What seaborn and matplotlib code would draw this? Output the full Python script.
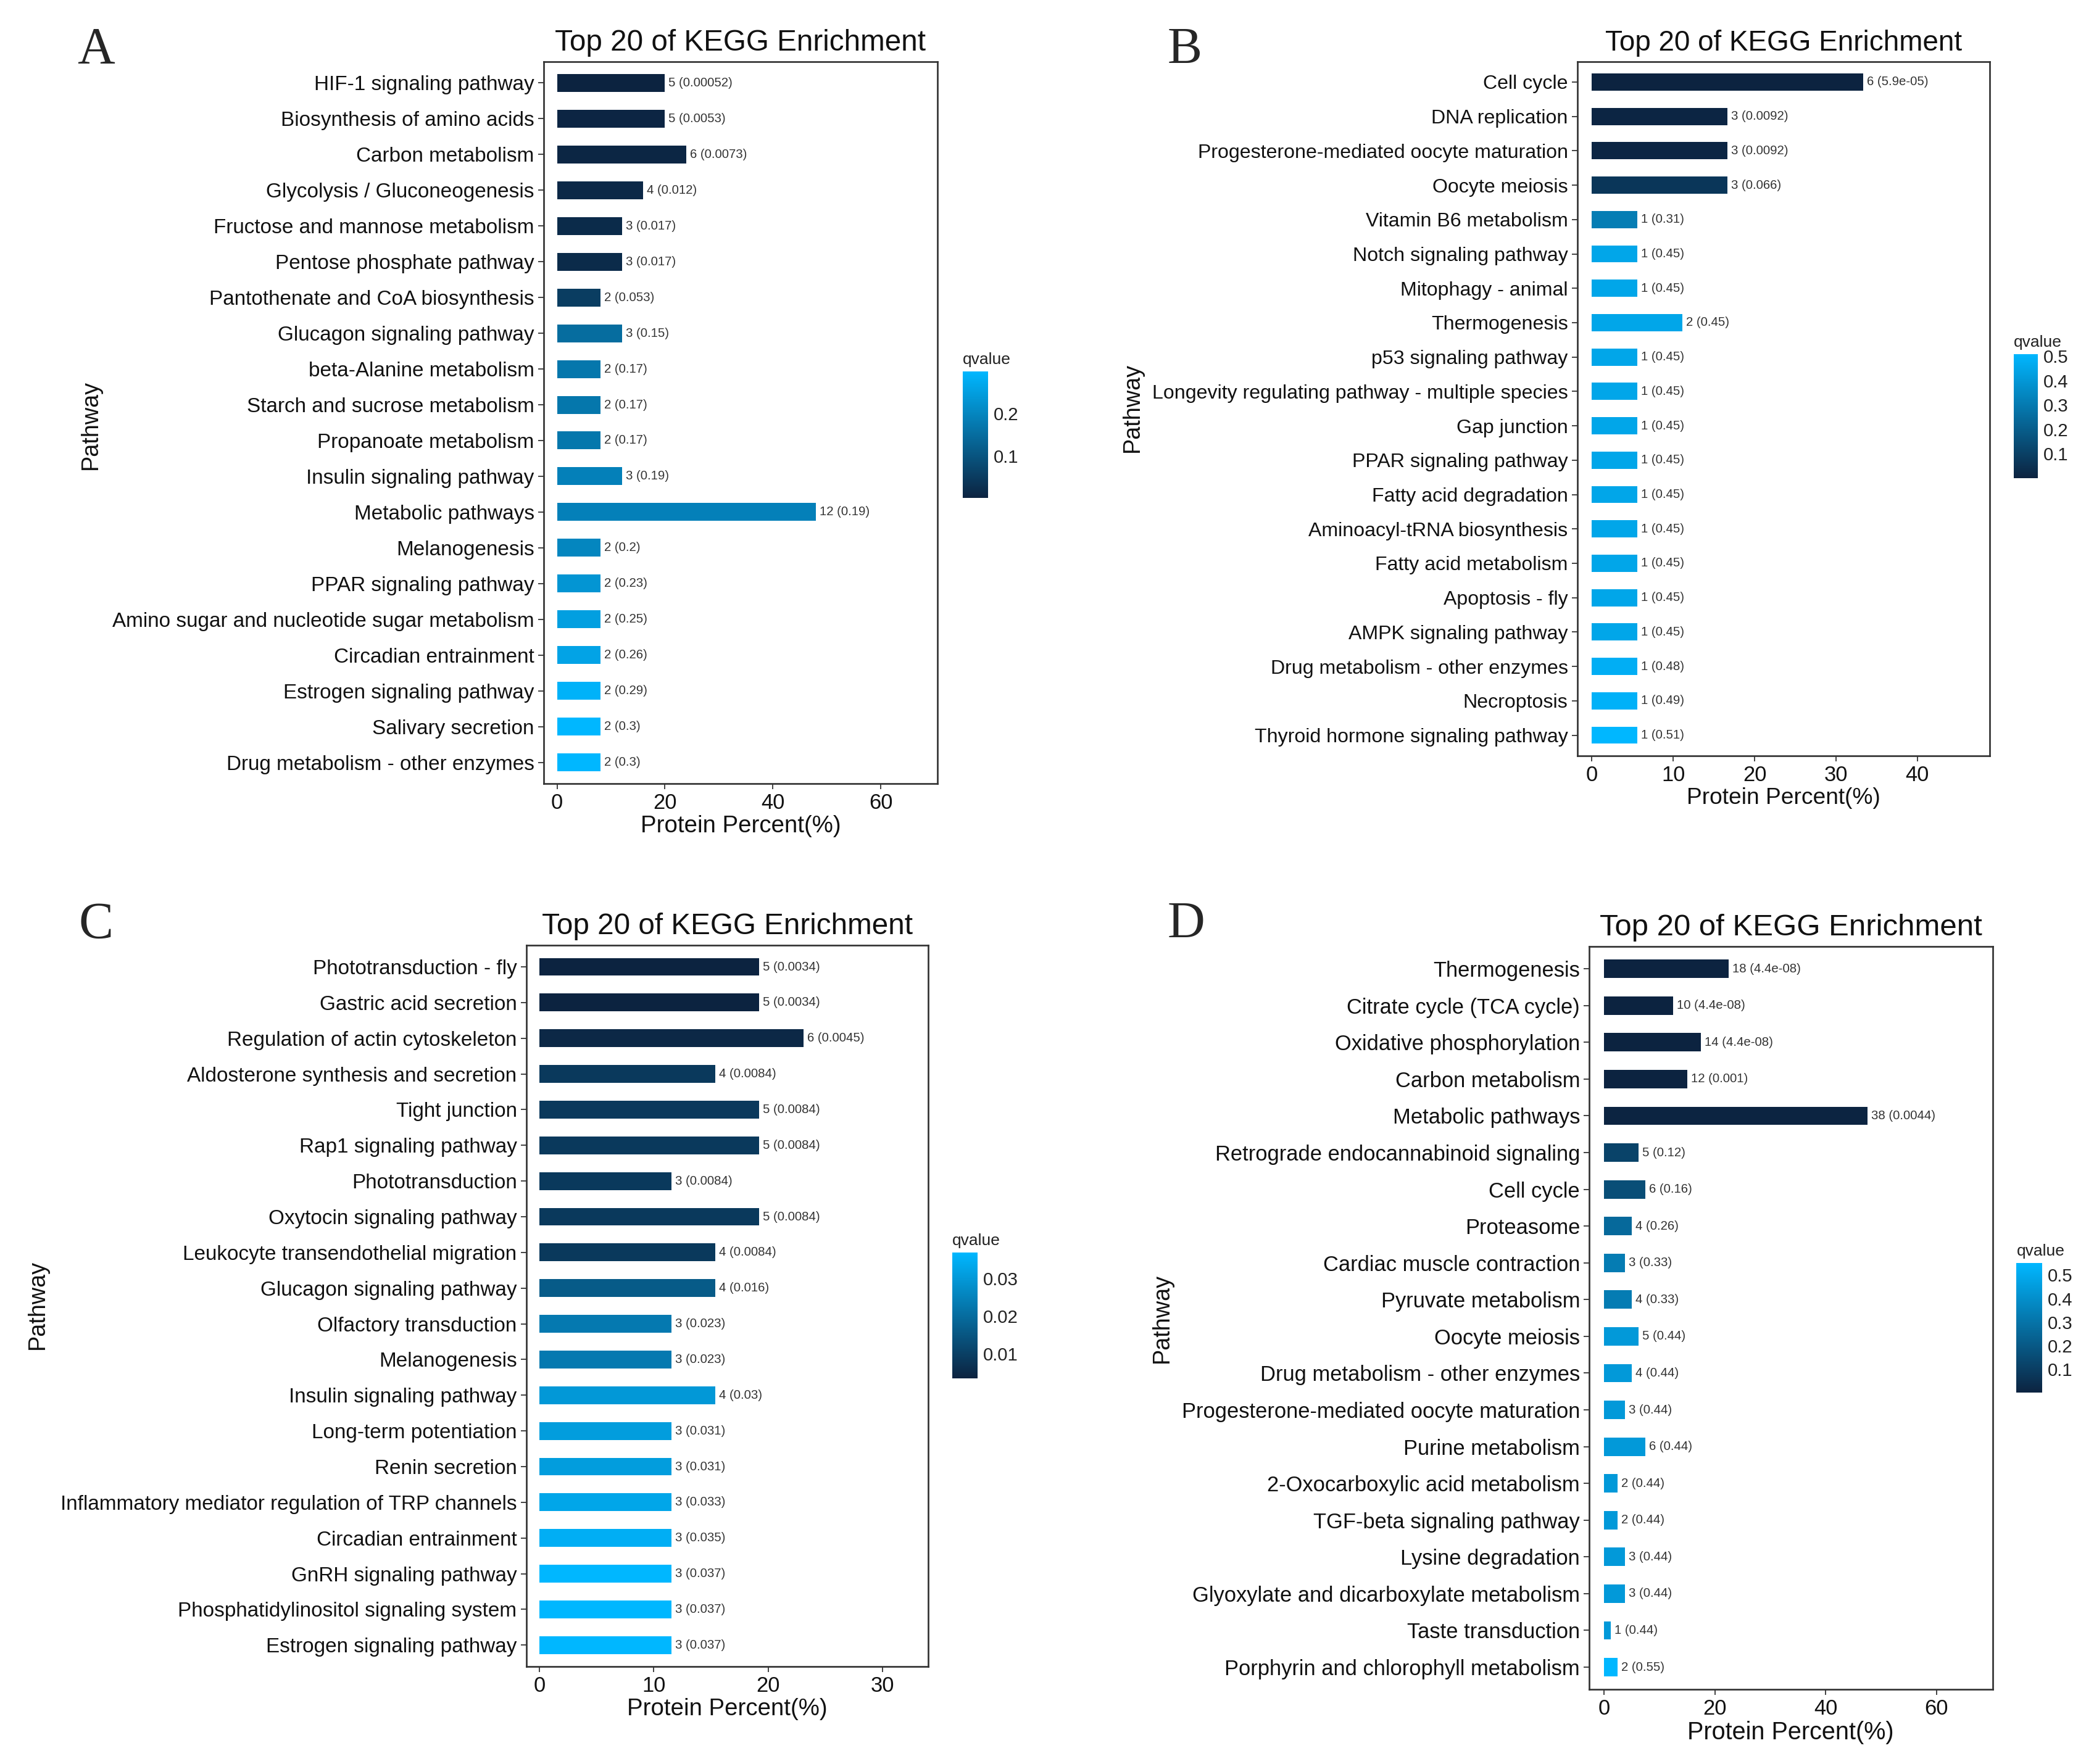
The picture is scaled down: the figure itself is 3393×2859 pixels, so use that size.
import numpy as np
import pandas as pd
import matplotlib
matplotlib.use("Agg")
import matplotlib.pyplot as plt
import matplotlib.cm as cm
from matplotlib.colors import LinearSegmentedColormap, Normalize
import seaborn as sns

# ---- panel A ----
a_pathways = [
    "HIF-1 signaling pathway", "Biosynthesis of amino acids", "Carbon metabolism",
    "Glycolysis / Gluconeogenesis", "Fructose and mannose metabolism",
    "Pentose phosphate pathway", "Pantothenate and CoA biosynthesis",
    "Glucagon signaling pathway", "beta-Alanine metabolism",
    "Starch and sucrose metabolism", "Propanoate metabolism",
    "Insulin signaling pathway", "Metabolic pathways", "Melanogenesis",
    "PPAR signaling pathway", "Amino sugar and nucleotide sugar metabolism",
    "Circadian entrainment", "Estrogen signaling pathway", "Salivary secretion",
    "Drug metabolism - other enzymes",
]
a_counts = [5, 5, 6, 4, 3, 3, 2, 3, 2, 2, 2, 3, 12, 2, 2, 2, 2, 2, 2, 2]
a_qvalues = [0.00052, 0.0053, 0.0073, 0.012, 0.017, 0.017, 0.053, 0.15, 0.17, 0.17,
             0.17, 0.19, 0.19, 0.2, 0.23, 0.25, 0.26, 0.29, 0.3, 0.3]
a_total = 25

# ---- panel B ----
b_pathways = [
    "Cell cycle", "DNA replication", "Progesterone-mediated oocyte maturation",
    "Oocyte meiosis", "Vitamin B6 metabolism", "Notch signaling pathway",
    "Mitophagy - animal", "Thermogenesis", "p53 signaling pathway",
    "Longevity regulating pathway - multiple species", "Gap junction",
    "PPAR signaling pathway", "Fatty acid degradation",
    "Aminoacyl-tRNA biosynthesis", "Fatty acid metabolism", "Apoptosis - fly",
    "AMPK signaling pathway", "Drug metabolism - other enzymes", "Necroptosis",
    "Thyroid hormone signaling pathway",
]
b_counts = [6, 3, 3, 3, 1, 1, 1, 2, 1, 1, 1, 1, 1, 1, 1, 1, 1, 1, 1, 1]
b_qvalues = [5.9e-05, 0.0092, 0.0092, 0.066, 0.31, 0.45, 0.45, 0.45, 0.45, 0.45,
             0.45, 0.45, 0.45, 0.45, 0.45, 0.45, 0.45, 0.48, 0.49, 0.51]
b_total = 18

# ---- panel C ----
c_pathways = [
    "Phototransduction - fly", "Gastric acid secretion",
    "Regulation of actin cytoskeleton", "Aldosterone synthesis and secretion",
    "Tight junction", "Rap1 signaling pathway", "Phototransduction",
    "Oxytocin signaling pathway", "Leukocyte transendothelial migration",
    "Glucagon signaling pathway", "Olfactory transduction", "Melanogenesis",
    "Insulin signaling pathway", "Long-term potentiation", "Renin secretion",
    "Inflammatory mediator regulation of TRP channels", "Circadian entrainment",
    "GnRH signaling pathway", "Phosphatidylinositol signaling system",
    "Estrogen signaling pathway",
]
c_counts = [5, 5, 6, 4, 5, 5, 3, 5, 4, 4, 3, 3, 4, 3, 3, 3, 3, 3, 3, 3]
c_qvalues = [0.0034, 0.0034, 0.0045, 0.0084, 0.0084, 0.0084, 0.0084, 0.0084, 0.0084,
             0.016, 0.023, 0.023, 0.03, 0.031, 0.031, 0.033, 0.035, 0.037, 0.037, 0.037]
c_total = 26

# ---- panel D ----
d_pathways = [
    "Thermogenesis", "Citrate cycle (TCA cycle)", "Oxidative phosphorylation",
    "Carbon metabolism", "Metabolic pathways",
    "Retrograde endocannabinoid signaling", "Cell cycle", "Proteasome",
    "Cardiac muscle contraction", "Pyruvate metabolism", "Oocyte meiosis",
    "Drug metabolism - other enzymes", "Progesterone-mediated oocyte maturation",
    "Purine metabolism", "2-Oxocarboxylic acid metabolism",
    "TGF-beta signaling pathway", "Lysine degradation",
    "Glyoxylate and dicarboxylate metabolism", "Taste transduction",
    "Porphyrin and chlorophyll metabolism",
]
d_counts = [18, 10, 14, 12, 38, 5, 6, 4, 3, 4, 5, 4, 3, 6, 2, 2, 3, 3, 1, 2]
d_qvalues = [4.4e-08, 4.4e-08, 4.4e-08, 0.001, 0.0044, 0.12, 0.16, 0.26, 0.33, 0.33,
             0.44, 0.44, 0.44, 0.44, 0.44, 0.44, 0.44, 0.44, 0.44, 0.55]
d_total = 80

sns.set_style("white")
plt.rcParams['font.family'] = ['Liberation Sans', 'DejaVu Sans']

# layout is measured on a 1568 x 1321 grid of the reference
W, H = 1568.0, 1321.0


def rect(x0, y0, x1, y1):
    return [x0 / W, 1 - y1 / H, (x1 - x0) / W, (y1 - y0) / H]


qcmap = LinearSegmentedColormap.from_list("qvalue", ["#0c2340", "#00b7ff"])

layout = {
    'A': dict(ax=(407, 46, 702, 587), cax=(721, 278, 740, 373), xlim=(-2.5, 70.5),
              xticks=[0, 20, 40, 60], cticks=[0.1, 0.2], ylab=(68, 318), letter=(72, 38),
              fs_y=11.1, fs_t=15.9, fs_x=12.8),
    'B': dict(ax=(1181, 46, 1490, 566), cax=(1508, 265, 1526, 358), xlim=(-1.8, 48.9),
              xticks=[0, 10, 20, 30, 40], cticks=[0.1, 0.2, 0.3, 0.4, 0.5], ylab=(848, 305),
              letter=(887, 38), fs_y=10.7, fs_t=15.3, fs_x=12.4),
    'C': dict(ax=(394, 708, 695, 1248), cax=(713, 938, 732, 1032), xlim=(-1.17, 34.0),
              xticks=[0, 10, 20, 30], cticks=[0.01, 0.02, 0.03], ylab=(28, 977),
              letter=(72, 693), fs_y=11.1, fs_t=15.9, fs_x=12.8),
    'D': dict(ax=(1190, 709, 1492, 1265), cax=(1510, 946, 1529, 1043), xlim=(-2.65, 70.1),
              xticks=[0, 20, 40, 60], cticks=[0.1, 0.2, 0.3, 0.4, 0.5], ylab=(870, 987),
              letter=(888, 693), fs_y=11.5, fs_t=16.4, fs_x=13.2),
}


def draw_panel(fig, key, pathways, counts, qvalues, total):
    spec = layout[key]
    df = pd.DataFrame({
        'pathway': pathways,
        'count': counts,
        'qvalue': qvalues,
        'percent': np.array(counts) / total * 100,
    })
    lo, hi = min(qvalues), max(qvalues)

    ax = fig.add_axes(rect(*spec['ax']))
    sns.barplot(data=df, x='percent', y='pathway', hue='qvalue', palette=qcmap,
                hue_norm=(lo, hi), dodge=False, width=0.5, saturation=1,
                errorbar=None, legend=False, linewidth=0, ax=ax)

    for i, row in df.iterrows():
        ax.annotate(f"{row['count']} ({row['qvalue']:.2g})", xy=(row['percent'], i),
                    xytext=(2, 0), textcoords='offset points', ha='left', va='center',
                    fontsize=6.8, color='#333333')

    n = len(df)
    ax.set_ylim(n - 1 + 0.6, -0.6)
    ax.set_xlim(*spec['xlim'])
    ax.set_xticks(spec['xticks'])
    ax.set_ylabel("")
    ax.set_xlabel("Protein Percent(%)", fontsize=spec['fs_x'], labelpad=1, color='#111111')
    ax.set_title("Top 20 of KEGG Enrichment", fontsize=spec['fs_t'], pad=6, color='#111111')
    ax.tick_params(axis='both', bottom=True, left=True, length=3, width=0.6,
                   color='#333333', pad=2)
    ax.tick_params(axis='y', labelsize=spec['fs_y'], labelcolor='#111111')
    ax.tick_params(axis='x', labelsize=11.5, labelcolor='#111111')
    for s in ax.spines.values():
        s.set_visible(True)
        s.set_color('#333333')
        s.set_linewidth(0.9)

    # qvalue colour bar
    cax = fig.add_axes(rect(*spec['cax']))
    sm = cm.ScalarMappable(norm=Normalize(lo, hi), cmap=qcmap)
    cb = fig.colorbar(sm, cax=cax, ticks=spec['cticks'])
    cb.outline.set_visible(False)
    cb.ax.set_yticklabels([f"{t:g}" for t in spec['cticks']])
    cax.tick_params(direction='in', color='white', length=2.5, width=0.6,
                    left=True, right=True, labelsize=9.8, labelcolor='#222222', pad=3)
    cax.set_title("qvalue", loc='left', fontsize=8.8, pad=4, color='#222222')

    fig.text(spec['ylab'][0] / W, 1 - spec['ylab'][1] / H, "Pathway", rotation=90,
             ha='center', va='center', fontsize=12.6, color='#111111')
    fig.text(spec['letter'][0] / W, 1 - spec['letter'][1] / H, key, ha='center',
             va='center', fontsize=28, family=['Liberation Serif', 'DejaVu Serif'])


fig = plt.figure(figsize=(3393 / 216, 2859 / 216), dpi=216)
draw_panel(fig, 'A', a_pathways, a_counts, a_qvalues, a_total)
draw_panel(fig, 'B', b_pathways, b_counts, b_qvalues, b_total)
draw_panel(fig, 'C', c_pathways, c_counts, c_qvalues, c_total)
draw_panel(fig, 'D', d_pathways, d_counts, d_qvalues, d_total)

fig.savefig("out.png", dpi=216, facecolor='white')
